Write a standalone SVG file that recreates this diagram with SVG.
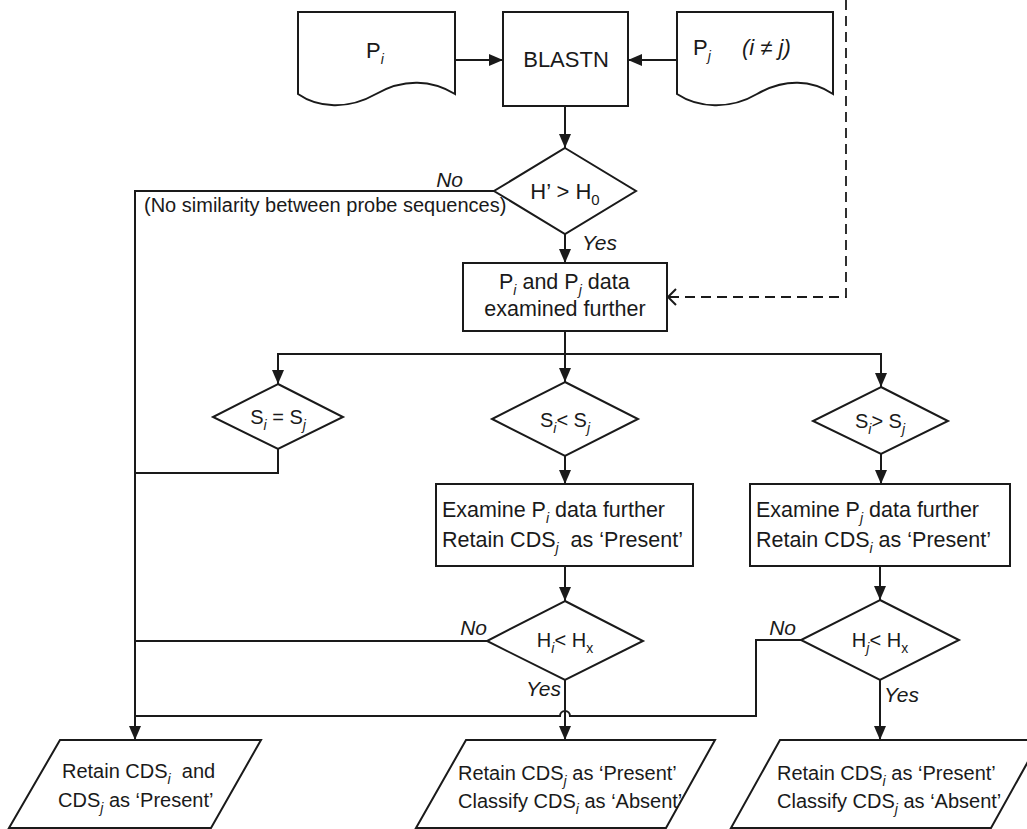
<svg xmlns="http://www.w3.org/2000/svg" width="1027" height="829" viewBox="0 0 1027 829">
<style>
  .shape { fill: #ffffff; stroke: #1a1a1a; stroke-width: 2; }
  .line { fill: none; stroke: #1a1a1a; stroke-width: 2; }
  .dash { fill: none; stroke: #1a1a1a; stroke-width: 1.8; stroke-dasharray: 10 6; }
  .t { font-family: "Liberation Sans", Arial, sans-serif; font-size: 20px; fill: #1a1a1a; }
  .big { font-size: 22px; }
  .box { font-size: 21.5px; }
  .lbl { font-size: 21px; font-style: italic; }
  .it { font-style: italic; }
  .s { font-size: 14px; font-style: italic; }
  .sn { font-size: 14px; font-style: normal; }
</style>
<defs>
  <marker id="arr" markerUnits="userSpaceOnUse" markerWidth="14" markerHeight="12" refX="14" refY="6" orient="auto">
    <path d="M0,0 L14,6 L0,12 Z" fill="#1a1a1a"/>
  </marker>
</defs>
<rect x="0" y="0" width="1027" height="829" fill="#ffffff"/>

<g id="connectors">
  <path class="line" d="M455,60 H503" marker-end="url(#arr)"/>
  <path class="line" d="M677,60 H628" marker-end="url(#arr)"/>
  <path class="line" d="M565,106 V148" marker-end="url(#arr)"/>
  <path class="line" d="M565,234 V263" marker-end="url(#arr)"/>
  <path class="line" d="M494,191 H135 V740" marker-end="url(#arr)"/>
  <path class="dash" d="M846,0 V297 H668"/>
  <path class="line" d="M676,289 L668,297 L676,305" stroke-width="1.8"/>
  <path class="line" d="M565,331 V382" marker-end="url(#arr)"/>
  <path class="line" d="M565,354 H278 V384" marker-end="url(#arr)"/>
  <path class="line" d="M565,354 H881 V387" marker-end="url(#arr)"/>
  <path class="line" d="M278,449 V473 H135"/>
  <path class="line" d="M565,456 V484" marker-end="url(#arr)"/>
  <path class="line" d="M881,454 V484" marker-end="url(#arr)"/>
  <path class="line" d="M565,566 V601" marker-end="url(#arr)"/>
  <path class="line" d="M880,566 V600" marker-end="url(#arr)"/>
  <path class="line" d="M487,641 H135"/>
  <path class="line" d="M801,640 H756 V716 H570 A5,5 0 0 0 560,716 H135"/>
  <path class="line" d="M565,680 V740" marker-end="url(#arr)"/>
  <path class="line" d="M880,680 V740" marker-end="url(#arr)"/>
  <text class="t lbl" x="463" y="187" text-anchor="end">No</text>
  <text class="t" x="144" y="212">(No similarity between probe sequences)</text>
  <text class="t lbl" x="582" y="250">Yes</text>
  <text class="t lbl" x="487" y="635" text-anchor="end">No</text>
  <text class="t lbl" x="796" y="635" text-anchor="end">No</text>
  <text class="t lbl" x="561" y="696" text-anchor="end">Yes</text>
  <text class="t lbl" x="884" y="702">Yes</text>
</g>

<g id="doc-pi">
  <path class="shape" d="M298,12 H455 V94 C432,80 404,78 376,94 C348,110 318,108 298,94 Z"/>
  <text class="t big" x="366" y="58">P<tspan class="s" dy="6">i</tspan></text>
</g>

<g id="blastn">
  <rect class="shape" x="503" y="12" width="125" height="94"/>
  <text class="t big" x="566" y="67" text-anchor="middle">BLASTN</text>
</g>

<g id="doc-pj">
  <path class="shape" d="M677,12 H833 V94 C812,80 785,78 757,94 C730,110 698,108 677,94 Z"/>
  <text class="t big" x="693" y="55">P<tspan class="s" dy="6">j</tspan></text>
  <text class="t big it" x="742" y="55">(i ≠ j)</text>
</g>

<g id="decision-h0">
  <polygon class="shape" points="565,148 636,191 565,234 494,191"/>
  <text class="t big" x="565" y="199" text-anchor="middle">H’ &gt; H<tspan font-size="15" dy="6">0</tspan></text>
</g>

<g id="examine-both">
  <rect class="shape" x="463" y="263" width="204" height="68"/>
  <text class="t box" x="499" y="289">P<tspan class="s" dy="6">i</tspan><tspan dy="-6"> and P</tspan><tspan class="s" dy="6">j</tspan><tspan dy="-6"> data</tspan></text>
  <text class="t box" x="565" y="316" text-anchor="middle">examined further</text>
</g>

<g id="decision-eq">
  <polygon class="shape" points="278,384 343,417 278,449 213,417"/>
  <text class="t" x="278" y="424" text-anchor="middle">S<tspan class="s" dy="6">i</tspan><tspan dy="-6"> = S</tspan><tspan class="s" dy="6">j</tspan></text>
</g>

<g id="decision-lt">
  <polygon class="shape" points="565,382 638,419 565,456 492,419"/>
  <text class="t" x="565" y="427" text-anchor="middle">S<tspan class="s" dy="6">i</tspan><tspan dy="-6">&lt; S</tspan><tspan class="s" dy="6">j</tspan></text>
</g>

<g id="decision-gt">
  <polygon class="shape" points="881,387 948,421 881,454 813,421"/>
  <text class="t" x="880" y="428" text-anchor="middle">S<tspan class="s" dy="6">i</tspan><tspan dy="-6">&gt; S</tspan><tspan class="s" dy="6">j</tspan></text>
</g>

<g id="examine-pi">
  <rect class="shape" x="436" y="484" width="257" height="82"/>
  <text class="t box" x="442" y="517">Examine P<tspan class="s" dy="6">i</tspan><tspan dy="-6"> data further</tspan></text>
  <text class="t box" x="442" y="547">Retain CDS<tspan class="s" dy="6">j</tspan><tspan dy="-6" xml:space="preserve">  as ‘Present’</tspan></text>
</g>

<g id="examine-pj">
  <rect class="shape" x="750" y="484" width="260" height="82"/>
  <text class="t box" x="756" y="517">Examine P<tspan class="s" dy="6">j</tspan><tspan dy="-6"> data further</tspan></text>
  <text class="t box" x="756" y="547">Retain CDS<tspan class="s" dy="6">i</tspan><tspan dy="-6"> as ‘Present’</tspan></text>
</g>

<g id="decision-hi">
  <polygon class="shape" points="565,601 643,641 565,680 487,641"/>
  <text class="t" x="565" y="647" text-anchor="middle">H<tspan class="s" dy="6">i</tspan><tspan dy="-6">&lt; H</tspan><tspan class="sn" dy="6">x</tspan></text>
</g>

<g id="decision-hj">
  <polygon class="shape" points="880,600 959,640 880,680 801,640"/>
  <text class="t" x="880" y="647" text-anchor="middle">H<tspan class="s" dy="6">j</tspan><tspan dy="-6">&lt; H</tspan><tspan class="sn" dy="6">x</tspan></text>
</g>

<g id="out-both">
  <polygon class="shape" points="60,740 261,740 211,828 9,828"/>
  <text class="t" x="62" y="778">Retain CDS<tspan class="s" dy="6">i</tspan><tspan dy="-6" xml:space="preserve">  and</tspan></text>
  <text class="t" x="58" y="807">CDS<tspan class="s" dy="6">j</tspan><tspan dy="-6"> as ‘Present’</tspan></text>
</g>

<g id="out-j">
  <polygon class="shape" points="466,740 715,740 666,828 416,828"/>
  <text class="t" x="458" y="780">Retain CDS<tspan class="s" dy="6">j</tspan><tspan dy="-6"> as ‘Present’</tspan></text>
  <text class="t" x="458" y="808">Classify CDS<tspan class="s" dy="6">i</tspan><tspan dy="-6"> as ‘Absent’</tspan></text>
</g>

<g id="out-i">
  <polygon class="shape" points="780,740 1040,740 991,828 731,828"/>
  <text class="t" x="777" y="780">Retain CDS<tspan class="s" dy="6">i</tspan><tspan dy="-6"> as ‘Present’</tspan></text>
  <text class="t" x="777" y="808">Classify CDS<tspan class="s" dy="6">j</tspan><tspan dy="-6"> as ‘Absent’</tspan></text>
</g>
</svg>
